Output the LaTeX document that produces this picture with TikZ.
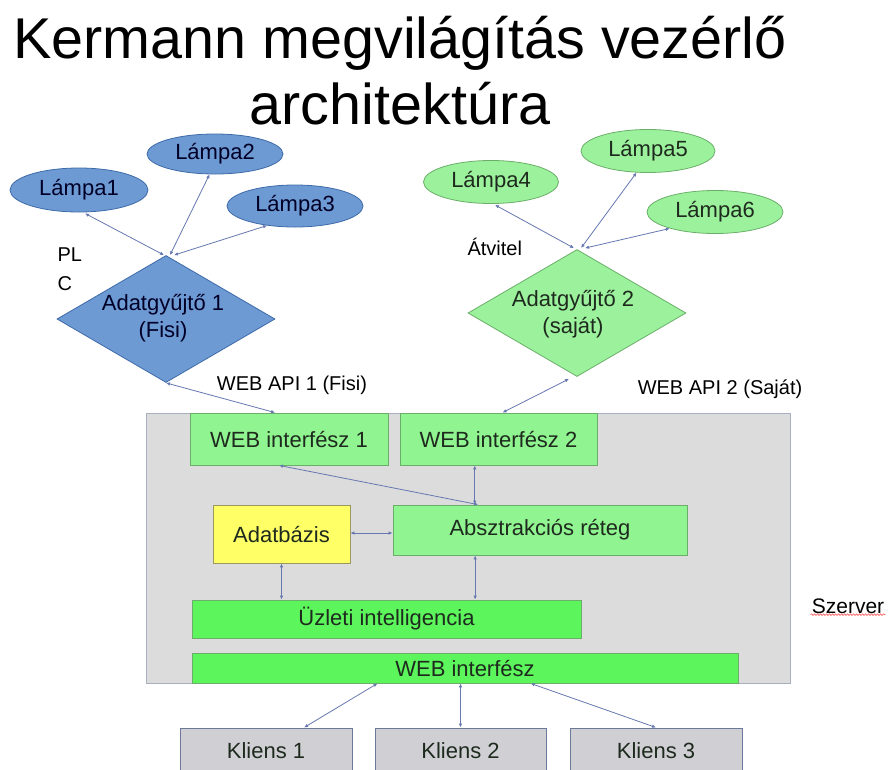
\documentclass[tikz,border=0pt]{standalone}
\usepackage{fontspec}
\setmainfont{Liberation Sans}
\usetikzlibrary{shapes.geometric,arrows.meta,calc,decorations.pathmorphing}
\definecolor{bluefill}{HTML}{6E9AD4}
\definecolor{blueline}{HTML}{3D6AA8}
\definecolor{greenfill}{HTML}{9CF29C}
\definecolor{greenline}{HTML}{6AAE6A}
\definecolor{boxgreen}{HTML}{90F590}
\definecolor{brightgreen}{HTML}{5CF55C}
\definecolor{dbyellow}{HTML}{FFFF66}
\definecolor{dbline}{HTML}{9A9A60}
\definecolor{servfill}{HTML}{DCDCDC}
\definecolor{servline}{HTML}{A8B0C0}
\definecolor{klfill}{HTML}{D0D0D4}
\definecolor{klline}{HTML}{6A7A98}
\definecolor{conncol}{HTML}{6678B0}
\definecolor{darktext}{HTML}{1E2A1E}
\begin{document}
\begin{tikzpicture}[x=1pt,y=-1pt,
  txt/.style={font=\fontsize{22}{24}\selectfont, text=darktext},
  lampblue/.style={ellipse, draw=blueline, fill=bluefill, line width=0.8pt, inner sep=0pt, txt, text=black!85!blue},
  lampgreen/.style={ellipse, draw=greenline, fill=greenfill, line width=0.8pt, inner sep=0pt, txt},
  dia/.style={diamond, inner sep=0pt, line width=0.8pt, minimum width=218pt, minimum height=127pt},
  gbox/.style={rectangle, draw=greenline, fill=boxgreen, line width=0.8pt, inner sep=0pt, txt},
  bgbox/.style={rectangle, draw=greenline, fill=brightgreen, line width=0.8pt, inner sep=0pt, txt},
  klbox/.style={rectangle, draw=klline, fill=klfill, line width=1pt, inner sep=0pt, txt},
  conn/.style={draw=conncol, line width=0.8pt, {Latex[length=4pt,width=3.5pt]}-{Latex[length=4pt,width=3.5pt]}},
  lbl/.style={txt, text=black, font=\fontsize{20}{22}\selectfont},
  ttl/.style={anchor=base, font=\fontsize{57.5}{62}\selectfont}
]
\clip (0,0) rectangle (894,769);
\fill[white] (0,0) rectangle (894,769);

% title
\node[ttl] (t1) at (400,58) {Kermann megvilágítás vezérlő};
\node[ttl] (t2) at (400,124) {architektúra};

% server
\node[rectangle, draw=servline, fill=servfill, line width=1pt, minimum width=644pt, minimum height=270pt, inner sep=0pt] (srv) at (468,548) {};
\node[txt, text=black, font=\fontsize{21}{24}\selectfont, inner sep=1pt] (szerver) at (848,606) {Szerver};
\draw[red!70, line width=0.6pt, decorate, decoration={snake, amplitude=0.8pt, segment length=3pt}] (szerver.south west) -- (szerver.south east);

% lamps left
\node[lampblue, minimum width=138pt, minimum height=44pt] (l1) at (79,190) {Lámpa1};
\node[lampblue, minimum width=136pt, minimum height=40pt] (l2) at (215,154) {Lámpa2};
\node[lampblue, minimum width=136pt, minimum height=42pt] (l3) at (295,206) {Lámpa3};
% lamps right
\node[lampgreen, minimum width=135pt, minimum height=43pt] (l4) at (491,182) {Lámpa4};
\node[lampgreen, minimum width=134pt, minimum height=43pt] (l5) at (648,151) {Lámpa5};
\node[lampgreen, minimum width=136pt, minimum height=43pt] (l6) at (715,212) {Lámpa6};

% diamonds
\node[dia, draw=blueline, fill=bluefill] (d1) at (166,319) {};
\node[txt, text=black!85!blue, align=center, font=\fontsize{22}{27}\selectfont] (d1t) at (163,318) {Adatgyűjtő 1\\(Fisi)};
\node[dia, draw=greenline, fill=greenfill] (d2) at (577,313) {};
\node[txt, align=center, font=\fontsize{22}{27}\selectfont] (d2t) at (573,314) {Adatgyűjtő 2\\(saját)};

% side labels
\node[lbl, anchor=base west] (plc1) at (54,261) {PL};
\node[lbl, anchor=base west] (plc2) at (54,290) {C};
\node[lbl, anchor=base west] (atv) at (464,255) {Átvitel};
\node[lbl, anchor=base] (api1) at (292,390) {WEB API 1 (Fisi)};
\node[lbl, anchor=base] (api2) at (720,394) {WEB API 2 (Saját)};

% boxes inside server
\node[gbox, minimum width=198pt, minimum height=52pt] (wi1) at (289,439) {WEB interfész 1};
\node[gbox, minimum width=197pt, minimum height=52pt] (wi2) at (498.5,439) {WEB interfész 2};
\node[rectangle, draw=dbline, fill=dbyellow, line width=0.8pt, inner sep=0pt, txt, minimum width=137pt, minimum height=58pt] (db) at (281.5,534) {Adatbázis};
\node[gbox, minimum width=294pt, minimum height=50pt] (abs) at (540,530) {Absztrakciós réteg};
\node[bgbox, minimum width=389pt, minimum height=38pt] (ui) at (386.5,619) {Üzleti intelligencia};
\node[bgbox, minimum width=546pt, minimum height=30pt] (web) at (465,668) {WEB interfész};

% clients
\node[klbox, minimum width=172pt, minimum height=46pt] (k1) at (266,751) {Kliens 1};
\node[klbox, minimum width=171pt, minimum height=46pt] (k2) at (460.5,751) {Kliens 2};
\node[klbox, minimum width=172pt, minimum height=46pt] (k3) at (656,751) {Kliens 3};

% connectors: lamps
\draw[conn] ($(d1.north)+(-2,0)$) -- ($(l1.south)+(6,1)$);
\draw[conn] ($(d1.north)+(4,0)$) -- (l2.255);
\draw[conn] ($(d1.north)+(8,0)$) -- (l3.215);
\draw[conn] ($(d2.north)+(-3,-1)$) -- ($(l4.south)+(4,1)$);
\draw[conn] ($(d2.north)+(4,-1)$) -- (l5.242);
\draw[conn] ($(d2.north)+(8,-1)$) -- (l6.200);

% web api
\draw[conn] (d1.south) -- ($(wi1.north west)!0.43!(wi1.north east)$);
\draw[conn] ($(d2.south)+(-8,2)$) -- ($(wi2.north west)!0.52!(wi2.north east)$);

% inside server
\draw[conn] ($(wi1.south west)!0.45!(wi1.south east)$) -- ($(abs.north west)!0.29!(abs.north east)$);
\draw[conn] ($(wi2.south west)!0.38!(wi2.south east)$) coordinate (w2b) -- (w2b |- abs.north);
\draw[conn] (db.east |- 0,533) coordinate (dbe) -- (dbe -| abs.west);
\draw[conn] (db.south) -- (db.south |- ui.north);
\draw[conn] ($(abs.south west)!0.28!(abs.south east)$) coordinate (abb) -- (abb |- ui.north);

% clients
\draw[conn] ($(web.south west)!0.34!(web.south east)$) -- ($(k1.north west)!0.72!(k1.north east)$);
\draw[conn] (k2.north |- web.south) -- (k2.north);
\draw[conn] ($(web.south west)!0.62!(web.south east)$) -- (k3.north);
\end{tikzpicture}
\end{document}
